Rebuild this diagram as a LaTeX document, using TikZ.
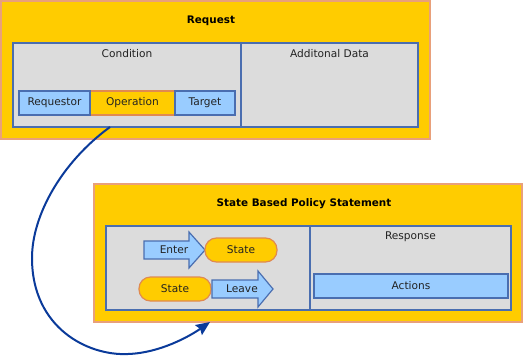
\documentclass[tikz,border=0pt]{standalone}
\usepackage{fontspec}
\setmainfont{DejaVu Sans}
\usetikzlibrary{arrows.meta,calc}
\definecolor{gold}{HTML}{FFCC00}
\definecolor{rim}{HTML}{E9A07A}
\definecolor{panel}{HTML}{DCDCDC}
\definecolor{edge}{HTML}{4A6EB0}
\definecolor{sky}{HTML}{99CCFF}
\definecolor{pillrim}{HTML}{E08A50}
\definecolor{link}{HTML}{0A3A9A}
\definecolor{ink}{HTML}{222222}
\begin{document}
\begin{tikzpicture}[x=1pt,y=-1pt,
  every node/.style={inner sep=0pt,outer sep=0pt,text=ink,font=\fontsize{10.6}{12}\selectfont},
  outerbox/.style={draw=rim,fill=gold,line width=1.2pt},
  panelbox/.style={draw=edge,fill=panel,line width=1.2pt},
  skybox/.style={draw=edge,fill=sky,line width=1.2pt},
  goldbox/.style={draw=pillrim,fill=gold,line width=1.2pt},
  pill/.style={draw=pillrim,fill=gold,line width=1.2pt,rounded corners=11.5pt,minimum width=72pt,minimum height=24pt},
  bigarrow/.style={draw=edge,fill=sky,line width=1.2pt,line join=miter},
  title/.style={font=\fontsize{10.4}{12}\selectfont\bfseries,text=black},
  link/.style={draw=link,line width=2pt,-{Stealth[length=14pt,width=12pt,inset=2pt]}}]
\useasboundingbox (0,0) rectangle (524,356);

% Request block
\node[outerbox,minimum width=429pt,minimum height=138pt] (req) at (215.5,70) {};
\node[title] (reqtitle) at (211,21) {Request};
\node[panelbox,minimum width=228pt,minimum height=84pt] (cond) at (127,85) {};
\node[panelbox,minimum width=177pt,minimum height=84pt] (extra) at (329.5,85) {};
\node (condlabel) at (127,54) {Condition};
\node (extralabel) at (329.5,54) {Additonal Data};
\node[goldbox,minimum width=85pt,minimum height=24pt] (op) at (132.5,103) {Operation};
\node[skybox,minimum width=71pt,minimum height=24pt] (reqor) at (54.5,103) {Requestor};
\node[skybox,minimum width=60pt,minimum height=24pt] (target) at (205,103) {Target};

% Policy statement block
\node[outerbox,minimum width=428pt,minimum height=138pt] (policy) at (308,253) {};
\node[title] (poltitle) at (304,204) {State Based Policy Statement};
\node[panelbox,minimum width=204pt,minimum height=84pt] (states) at (208,268) {};
\node[panelbox,minimum width=201pt,minimum height=84pt] (resp) at (410.5,268) {};
\node (resplabel) at (410.5,237) {Response};
\node[skybox,minimum width=194pt,minimum height=24pt] (actions) at (411,286) {Actions};

% Enter -> State
\draw[bigarrow] (144,241) -- (189,241) -- (189,232) -- (205,250) -- (189,268) -- (189,259) -- (144,259) -- cycle;
\node (enter) at (174,250) {Enter};
\node[pill] (state1) at (241,250) {State};

% State -> Leave
\node[pill] (state2) at (175,289) {State};
\draw[bigarrow] (212,280) -- (258,280) -- (258,271) -- (273,289) -- (258,307) -- (258,298) -- (212,298) -- cycle;
\node (leave) at (242,289) {Leave};

% Link from the request's operation down to the policy statement
\coordinate (from) at ($(cond.south west)+(97,0)$);
\coordinate (to) at ($(policy.south west)+(116,0)$);
\draw[link] (from) .. controls (62,162) and (32,215) .. (32,258)
  .. controls (32,328) and (88,356) .. (128,354)
  .. controls (160,353) and (190,336) .. (to);
\end{tikzpicture}
\end{document}
